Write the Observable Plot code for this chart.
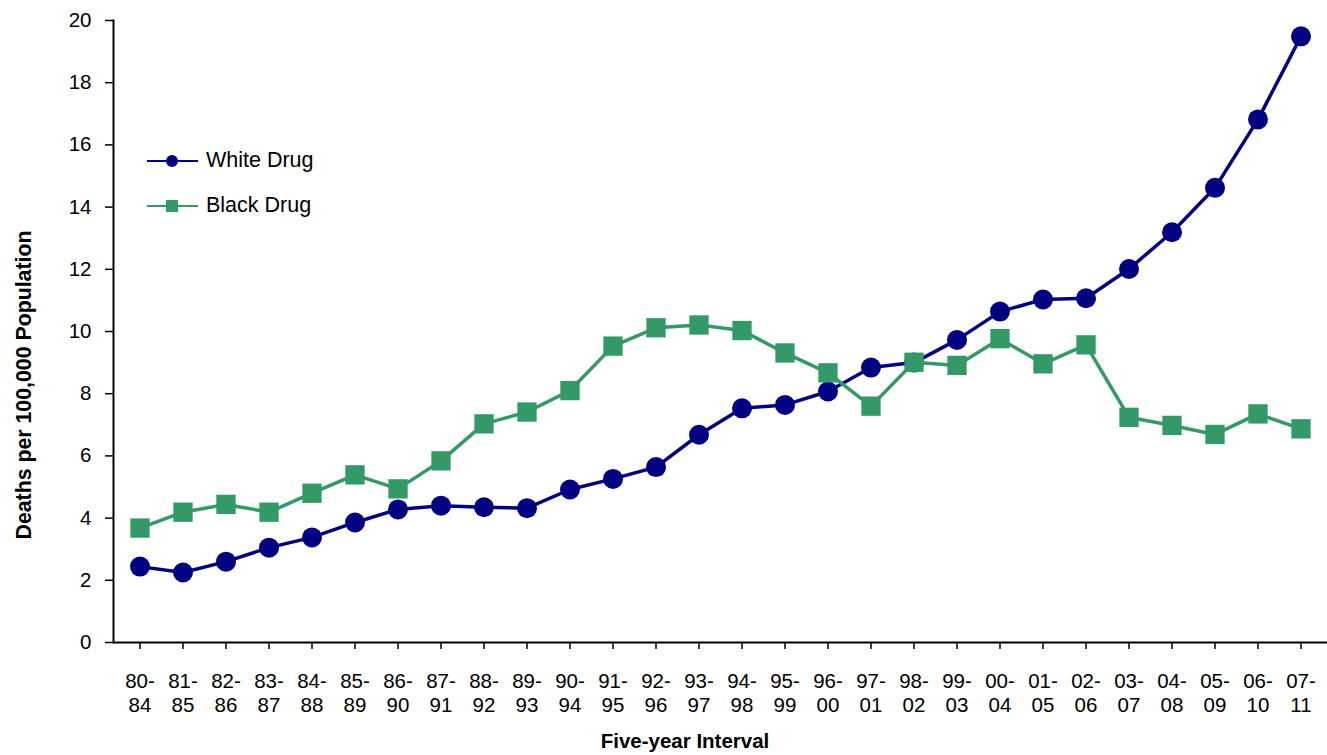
<!DOCTYPE html>
<html>
<head>
<meta charset="utf-8">
<script src="https://cdn.jsdelivr.net/npm/d3@7"></script>
<script src="https://cdn.jsdelivr.net/npm/@observablehq/plot@0.6"></script>
<style>
  html, body { margin: 0; padding: 0; background: #fff; }
  #wrap { position: relative; width: 1327px; height: 755px; overflow: hidden; font-family: "Liberation Sans", Arial, sans-serif; }
  #wrap svg text { font-size: 20.5px; fill: #000; }
  .ylab { position: absolute; left: 24px; top: 385px; transform: translate(-50%, -50%) rotate(-90deg); font-weight: bold; font-size: 21.3px; white-space: nowrap; color: #000; }
  .xlab { position: absolute; left: 685px; top: 741px; transform: translate(-50%, -50%); font-weight: bold; font-size: 20.5px; line-height: 22px; white-space: nowrap; color: #000; }
  .legend { position: absolute; left: 145px; top: 138px; }
  .legend .row { display: flex; align-items: center; height: 45px; font-size: 21.5px; color: #000; }
  .legend svg { margin-right: 5px; }
</style>
</head>
<body>
<div id="wrap"></div>
<script>
const intervals = ["80-84","81-85","82-86","83-87","84-88","85-89","86-90","87-91","88-92","89-93","90-94","91-95","92-96","93-97","94-98","95-99","96-00","97-01","98-02","99-03","00-04","01-05","02-06","03-07","04-08","05-09","06-10","07-11"];
const whiteDrug = [2.44,2.25,2.6,3.05,3.38,3.86,4.28,4.4,4.35,4.32,4.92,5.26,5.64,6.68,7.53,7.64,8.07,8.84,9.0,9.73,10.64,11.03,11.07,12.01,13.19,14.62,16.82,19.49];
const blackDrug = [3.68,4.19,4.44,4.19,4.8,5.39,4.94,5.84,7.03,7.41,8.1,9.53,10.12,10.21,10.03,9.31,8.67,7.6,9.01,8.91,9.77,8.96,9.57,7.24,6.98,6.69,7.35,6.87];
const yTicks = [0,2,4,6,8,10,12,14,16,18,20];
const seriesNames = ["White Drug", "Black Drug"];
const navy = "#000080";
const green = "#339966";

const whiteData = intervals.map((k, i) => ({interval: k, value: whiteDrug[i]}));
const blackData = intervals.map((k, i) => ({interval: k, value: blackDrug[i]}));

const chart = Plot.plot({
  width: 1327,
  height: 755,
  marginTop: 20,
  marginLeft: 113,
  marginRight: 0,
  marginBottom: 113,
  style: {fontFamily: "'Liberation Sans', Arial, sans-serif", color: "#000", background: "#fff"},
  x: {type: "band", domain: intervals, padding: 0},
  y: {domain: [0, 20]},
  marks: [
    Plot.axisY({ticks: yTicks, tickSize: 8, tickPadding: 14, label: null, tickFormat: d => String(d), strokeWidth: 1.5}),
    Plot.axisX({tickSize: 7, tickPadding: 22, label: null, tickFormat: d => d.slice(0,2) + "-\n" + d.slice(3), lineHeight: 1.15, strokeWidth: 1.5}),
    Plot.ruleY([0], {stroke: "#000", strokeWidth: 2}),
    Plot.frame({anchor: "left", stroke: "#000", strokeWidth: 2}),
    Plot.lineY(whiteData, {x: "interval", y: "value", stroke: navy, strokeWidth: 3.5}),
    Plot.dot(whiteData, {x: "interval", y: "value", fill: navy, r: 10, symbol: "circle"}),
    Plot.lineY(blackData, {x: "interval", y: "value", stroke: green, strokeWidth: 3.5}),
    Plot.dot(blackData, {x: "interval", y: "value", fill: green, r: 10.9, symbol: "square"})
  ]
});

const wrap = document.getElementById("wrap");
wrap.appendChild(chart);

const ylab = document.createElement("div");
ylab.className = "ylab";
ylab.textContent = "Deaths per 100,000 Population";
wrap.appendChild(ylab);

const xlab = document.createElement("div");
xlab.className = "xlab";
xlab.textContent = "Five-year Interval";
wrap.appendChild(xlab);

const legend = document.createElement("div");
legend.className = "legend";
const symbols = [
  `<svg width="56" height="14"><line x1="2" y1="7" x2="53" y2="7" stroke="${navy}" stroke-width="2"/><circle cx="27" cy="7" r="6" fill="${navy}"/></svg>`,
  `<svg width="56" height="14"><line x1="2" y1="7" x2="53" y2="7" stroke="${green}" stroke-width="2"/><rect x="21" y="1" width="12" height="12" fill="${green}"/></svg>`
];
seriesNames.forEach((name, i) => {
  const row = document.createElement("div");
  row.className = "row";
  row.innerHTML = symbols[i] + `<span>${name}</span>`;
  legend.appendChild(row);
});
wrap.appendChild(legend);
</script>
</body>
</html>
